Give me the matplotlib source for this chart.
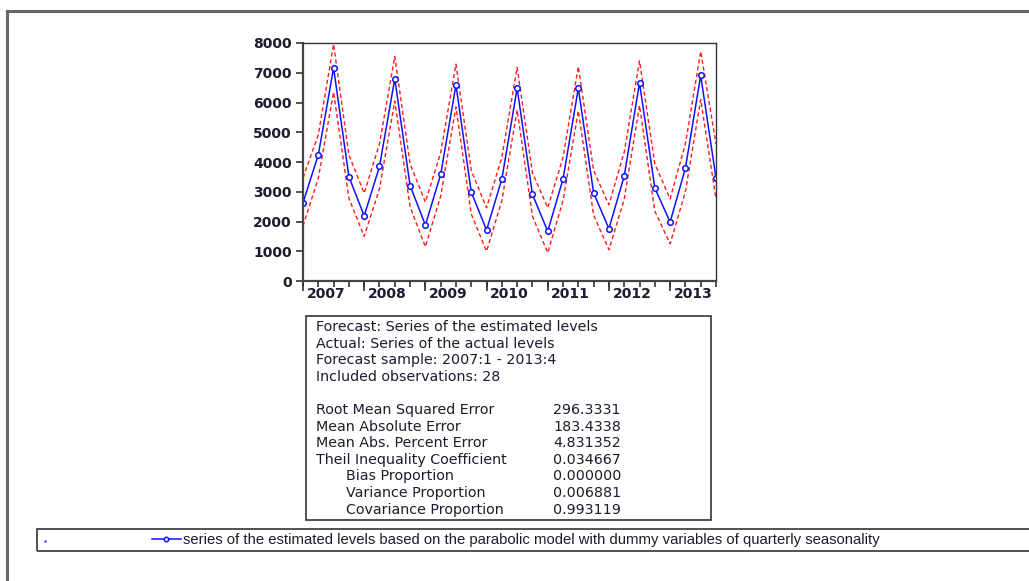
import matplotlib.pyplot as plt
import numpy as np
from matplotlib.patches import Rectangle
from matplotlib.lines import Line2D

plt.rcParams['font.family'] = ['DejaVu Sans']

# quarterly data 2007:1 - 2013:4
years = ['2007', '2008', '2009', '2010', '2011', '2012', '2013']
forecast = [2630, 4240, 7160, 3510,
            2190, 3850, 6800, 3210,
            1880, 3580, 6590, 2990,
            1710, 3430, 6480, 2910,
            1670, 3430, 6480, 2960,
            1760, 3530, 6660, 3130,
            1980, 3790, 6910, 3460]
upper = [3470, 4910, 7960, 4240,
         2950, 4610, 7550, 3940,
         2650, 4310, 7290, 3710,
         2460, 4160, 7180, 3640,
         2460, 4160, 7210, 3710,
         2560, 4330, 7400, 3940,
         2760, 4610, 7720, 4610]
lower = [1850, 3450, 6350, 2780,
         1500, 3100, 6050, 2500,
         1150, 2850, 5850, 2250,
         1000, 2700, 5750, 2180,
         950, 2700, 5720, 2210,
         1050, 2750, 5900, 2350,
         1250, 3000, 6100, 2760]

stat_names = ['Root Mean Squared Error', 'Mean Absolute Error',
              'Mean Abs. Percent Error', 'Theil Inequality Coefficient',
              'Bias Proportion', 'Variance Proportion',
              'Covariance Proportion']
stat_values = ['296.3331', '183.4338', '4.831352', '0.034667',
               '0.000000', '0.006881', '0.993119']
header = ['Forecast: Series of the estimated levels',
          'Actual: Series of the actual levels',
          'Forecast sample: 2007:1 - 2013:4',
          'Included observations: 28']
legend_label = ('series of the estimated levels based on the parabolic model '
                'with dummy variables of quarterly seasonality')

W, H = 1029, 581
fig = plt.figure(figsize=(W / 100, H / 100), dpi=100)
txt_col = '#1c1c30'
frame_col = '#666666'

def fx(px):
    return px / W

def fy(py):
    return 1 - py / H

# outer frame (top and left edges)
fig.add_artist(Line2D([fx(7), 1], [fy(11), fy(11)], color=frame_col, lw=2.2))
fig.add_artist(Line2D([fx(7), fx(7)], [fy(11), 0], color=frame_col, lw=2.2))

ax = fig.add_axes([fx(303), fy(281), fx(716) - fx(303), fy(43) - fy(281)])
q = np.arange(len(forecast))
ax.plot(q, upper, color='#ff1a1a', lw=1, ls=(0, (3, 2)))
ax.plot(q, lower, color='#ff1a1a', lw=1, ls=(0, (3, 2)))
line, = ax.plot(q, forecast, color='#1010ff', lw=1.1, marker='o', ms=4,
                mfc='white', mec='#1010ff', mew=1.1)

ax.set_xlim(0, len(forecast) - 1)
ax.set_ylim(0, 8000)
ax.set_yticks(np.arange(0, 8001, 1000))
tick_font = {'size': 10, 'weight': 'bold'}
ax.set_yticklabels([str(v) for v in range(0, 8001, 1000)], fontdict=tick_font,
                   color=txt_col)
ax.tick_params(axis='y', direction='out', length=5, width=1.2,
               color='#333333', pad=3)
ax.set_xticks(np.arange(len(years)) * 4 + 1.5)
ax.set_xticklabels(years, fontdict=tick_font, color=txt_col)
ax.set_xticks(q, minor=True)
ax.tick_params(axis='x', which='major', length=0, pad=4)
ax.tick_params(axis='x', which='minor', direction='out', length=4, width=1.2,
               color='#333333')
sec = ax.secondary_xaxis('bottom')
sec.set_xticks(np.arange(len(years)) * 4)
sec.set_xticklabels([])
sec.tick_params(direction='out', length=7, width=1.2, color='#333333')
sec.spines['bottom'].set_visible(False)
for s in ['left', 'bottom']:
    ax.spines[s].set_color('#444444')
    ax.spines[s].set_linewidth(1.6)
for s in ['top', 'right']:
    ax.spines[s].set_color('#333333')
    ax.spines[s].set_linewidth(1.0)

# statistics box
fig.add_artist(Rectangle((fx(306), fy(520)), fx(711) - fx(306), fy(316) - fy(520),
                         fill=False, ec='#333333', lw=1.2))
y0 = 327
step = 16.6
fs = 10.3
for i, t in enumerate(header):
    fig.text(fx(316), fy(y0 + i * step), t, fontsize=fs, color=txt_col,
             va='center', ha='left')
y1 = 410
for i, (n, v) in enumerate(zip(stat_names, stat_values)):
    xn = 346 if i >= 4 else 316
    fig.text(fx(xn), fy(y1 + i * step), n, fontsize=fs, color=txt_col,
             va='center', ha='left')
    fig.text(fx(553), fy(y1 + i * step), v, fontsize=fs, color=txt_col,
             va='center', ha='left')

# legend box
fig.add_artist(Rectangle((fx(37), fy(551)), 1 - fx(37) + 0.01, fy(529) - fy(551),
                         fill=False, ec='#333333', lw=1.2))
fig.add_artist(Line2D([fx(45)], [fy(541)], marker='.', ms=1.5, color='#4444ff'))
fig.legend([line], [legend_label], loc='center left',
           bbox_to_anchor=(fx(152), fy(540)), frameon=False, handlelength=1.95,
           handletextpad=0.15, borderaxespad=0, borderpad=0,
           prop={'family': ['Liberation Sans Narrow', 'Liberation Sans'], 'size': 10.7},
           labelcolor=txt_col, markerscale=0.8)

fig.savefig('out.png', dpi=100, facecolor='white')
